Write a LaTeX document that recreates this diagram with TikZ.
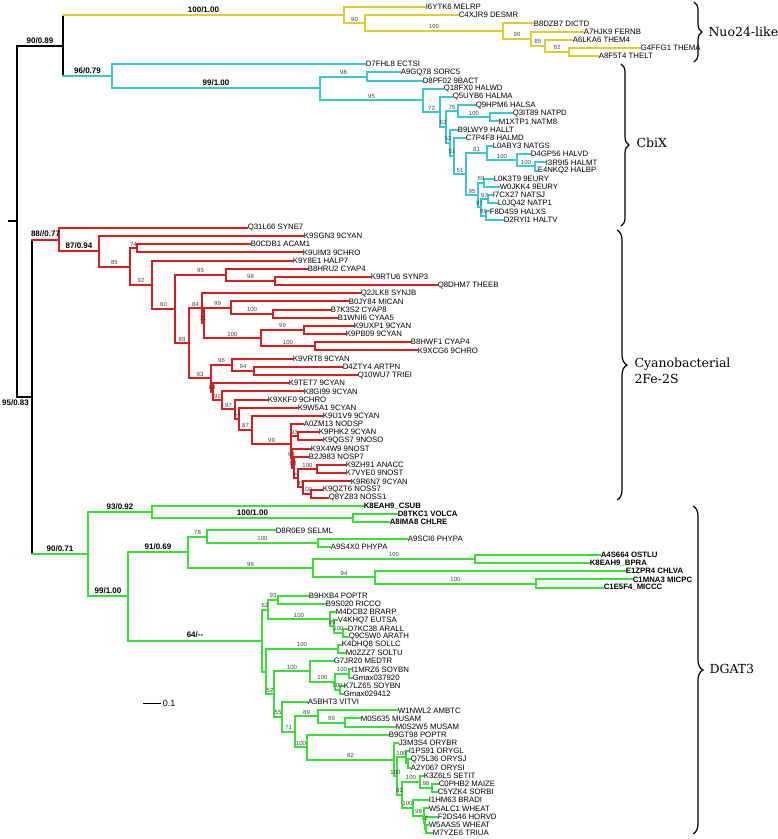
\documentclass[tikz,border=0pt]{standalone}
\usepackage{fontspec}
\setmainfont{Liberation Sans}
\newfontfamily\cladefont{DejaVu Serif}
\usetikzlibrary{calc, decorations.pathreplacing}
\definecolor{nuoyel}{RGB}{224,206,46}
\definecolor{cbicyan}{RGB}{56,200,212}
\definecolor{cyared}{RGB}{218,28,28}
\definecolor{dgagreen}{RGB}{56,224,56}
\tikzset{
  branch/.style={line width=2pt, line cap=rect},
  blk/.style={branch, draw=black},
  nuo/.style={branch, draw=nuoyel},
  cbi/.style={branch, draw=cbicyan},
  cya/.style={branch, draw=cyared},
  dga/.style={branch, draw=dgagreen},
  leaf/.style={anchor=west, inner sep=0.6pt, font=\fontsize{7.8}{8}\selectfont},
  bs/.style={above, inner sep=1pt, text=black!75, font=\fontsize{6}{6}\selectfont},
  sup/.style={above, inner sep=1.5pt, font=\fontsize{8}{9}\selectfont\bfseries},
  clade/.style={anchor=west, align=left, font=\cladefont\fontsize{12.5}{16}\selectfont},
  cbrace/.style={draw=black, line width=1.2pt, decorate, decoration={brace, amplitude=#1}},
  cbrace/.default=8pt
}
% inner node: name, x, first child, last child
\newcommand\inode[4]{\path let \p1=($(#3)!.5!(#4)$) in (#2pt,\y1) coordinate (#1);}

\begin{document}
\begin{tikzpicture}[x=1pt, y=-1pt]
\useasboundingbox (0,0) rectangle (778,839);

% leaves
\foreach \lx/\lt [count=\k from 0] in {
  425/I6YTK6 MELRP, 458/C4XJR9 DESMR, 533/B8DZB7 DICTD, 583/A7HJK9 FERNB,
  572/A6LKA6 THEM4, 640/G4FFG1 THEMA, 598/A8F5T4 THELT,
  365/D7FHL8 ECTSI, 400/A9GQ78 SORC5, 422/D8PF02 9BACT, 443/Q18FX0 HALWD,
  452/Q5UYB6 HALMA, 475/Q9HPM6 HALSA, 512/Q3IT89 NATPD, 498/M1XTP1 NATM8,
  457/B9LWY9 HALLT, 465/C7P4F8 HALMD, 492/L0ABY3 NATGS, 530/D4GP56 HALVD,
  545/I3R9I5 HALMT, 537/E4NKQ2 HALBP, 493/L0K3T9 9EURY, 499/W0JKK4 9EURY,
  492/I7CX27 NATSJ, 497/L0JQ42 NATP1, 489/F8D4S9 HALXS, 503/D2RYI1 HALTV,
  247/Q31L66 SYNE7, 303/K9SGN3 9CYAN, 250/B0CDB1 ACAM1, 302/K9UIM3 9CHRO,
  292/K9Y8E1 HALP7, 307/B8HRU2 CYAP4, 370/K9RTU6 SYNP3, 437/Q8DHM7 THEEB,
  360/Q2JLK8 SYNJB, 348/B0JY84 MICAN, 330/B7K3S2 CYAP8, 337/B1WNI6 CYAA5,
  353/K9UXP1 9CYAN, 345/K9PB09 9CYAN, 410/B8HWF1 CYAP4, 417/K9XCG6 9CHRO,
  292/K9VRT8 9CYAN, 342/D4ZTY4 ARTPN, 357/Q10WU7 TRIEI, 288/K9TET7 9CYAN,
  303/K8GI99 9CYAN, 267/K9XKF0 9CHRO, 297/K9W5A1 9CYAN, 322/K9U1V9 9CYAN,
  303/A0ZM13 NODSP, 318/K9PHK2 9CYAN, 322/K9QGS7 9NOSO, 310/K9X4W9 9NOST,
  308/B2J983 NOSP7, 345/K9ZH91 ANACC, 345/K7VYE0 9NOST, 350/K9R6N7 9CYAN,
  322/K9QZT6 NOSS7, 328/Q8YZ83 NOSS1,
  363/\textbf{K8EAH9\_CSUB}, 397/\textbf{D8TKC1 VOLCA}, 389/\textbf{A8IMA8 CHLRE},
  275/D8R0E9 SELML, 407/A9SCI6 PHYPA, 330/A9S4X0 PHYPA,
  600/\textbf{A4S664 OSTLU}, 589/\textbf{K8EAH9\_BPRA}, 625/\textbf{E1ZPR4 CHLVA},
  632/\textbf{C1MNA3 MICPC}, 603/\textbf{C1E5F4\_MICCC},
  308/B9HXB4 POPTR, 325/B9S020 RICCO, 335/M4DCB2 BRARP, 337/V4KHQ7 EUTSA,
  347/D7KC38 ARALL, 348/Q9C5W0 ARATH, 341/K4DHQ8 SOLLC, 345/M0ZZZ7 SOLTU,
  333/G7JR20 MEDTR, 351/I1MRZ6 SOYBN, 352/Gmax037920, 343/K7LZ65 SOYBN,
  343/Gmax029412, 307/A5BHT3 VITVI, 397/W1NWL2 AMBTC, 360/M0S635 MUSAM,
  395/M0S2W5 MUSAM, 388/B9GT98 POPTR, 398/J3M3S4 ORYBR, 408/I1PS91 ORYGL,
  410/Q75L36 ORYSJ, 410/A2Y067 ORYSI, 423/K3Z6L5 SETIT, 438/C0PHB2 MAIZE,
  437/C5YZK4 SORBI, 428/I1HM63 BRADI, 428/W5ALC1 WHEAT, 437/F2DS46 HORVD,
  428/W5AAS5 WHEAT, 432/M7YZE6 TRIUA}
  \node[leaf] (l\k) at (\lx,{7+8.178*\k}) {\lt};

% inner nodes
%% Nuo24-like
\inode{nuF}{569}{l5}{l6}
\inode{nuE}{545}{l4}{nuF}
\inode{nuD}{531}{l3}{nuE}
\inode{nuC}{503}{l2}{nuD}
\inode{nuB}{365}{l1}{nuC}
\inode{nuA}{344}{l0}{nuB}
%% CbiX
\inode{cb99}{486}{l25}{l26}
\inode{cb97a}{488}{l23}{l24}
\inode{cb97b}{481}{cb97a}{cb99}
\inode{cb69}{484}{l21}{l22}
\inode{cb95b}{478}{cb69}{cb97b}
\inode{cb100c}{535}{l19}{l20}
\inode{cb100b}{517}{l18}{cb100c}
\inode{cb81}{487}{l17}{cb100b}
\inode{cb51b}{466}{cb81}{cb95b}
\inode{cb51a}{454}{l16}{cb51b}
\inode{cb52}{450}{l15}{cb51a}
\inode{cb100a}{490}{l13}{l14}
\inode{cb75}{458}{l12}{cb100a}
\inode{cb63}{446}{cb75}{cb52}
\inode{cb72}{440}{l11}{cb63}
\inode{cb95}{423}{l10}{cb72}
\inode{cb98}{367}{l8}{l9}
\inode{cb0}{320}{cb98}{cb95}
\inode{cbR}{112}{l7}{cb0}
%% Cyanobacterial 2Fe-2S
\inode{rA100}{311}{l59}{l60}
\inode{rA95}{303}{l58}{rA100}
\inode{rA100b}{317}{l56}{l57}
\inode{rA94}{298}{rA100b}{rA95}
\inode{rA63}{294}{l55}{rA94}
\inode{rA64}{292}{l54}{rA63}
\inode{r93c}{298}{l52}{l53}
\inode{rX}{291}{l51}{r93c}
\inode{r99d}{291}{rX}{rA64}
\inode{r87}{252}{l50}{r99d}
\inode{r64}{239}{l49}{r87}
\inode{r97}{235}{l48}{r64}
\inode{r92}{222}{l47}{r97}
\inode{r84b}{213}{l46}{r92}
\inode{r94}{254}{l44}{l45}
\inode{r96}{232}{l43}{r94}
\inode{r93}{211}{r96}{r84b}
\inode{r100c}{315}{l41}{l42}
\inode{r99c}{304}{l39}{l40}
\inode{r100b}{261}{r99c}{r100c}
\inode{r100a}{273}{l37}{l38}
\inode{r99b}{231}{l36}{r100a}
\inode{r71}{204}{r99b}{r100b}
\inode{r84}{202}{l35}{r71}
\inode{r89}{189}{r84}{r93}
\inode{r98}{275}{l33}{l34}
\inode{r95}{226}{l32}{r98}
\inode{r60}{175}{r95}{r89}
\inode{r92a}{152}{l31}{r60}
\inode{r74}{137}{l29}{l30}
\inode{r85}{130}{r74}{r92a}
\inode{rB}{99}{l28}{r85}
\inode{rA}{59}{l27}{rB}
%% DGAT3
\inode{gF}{536}{l70}{l71}
\inode{gE}{375}{l69}{gF}
\inode{gD}{475}{l67}{l68}
\inode{gC}{313}{gD}{gE}
\inode{gB}{318}{l65}{l66}
\inode{gA}{207}{l64}{gB}
\inode{g4}{188}{gA}{gC}
\inode{g2a}{353}{l62}{l63}
\inode{g2}{152}{l61}{g2a}
\inode{s93}{278}{l72}{l73}
\inode{s100c}{343}{l76}{l77}
\inode{s99}{334}{l75}{s100c}
\inode{s100b}{330}{l74}{s99}
\inode{s62}{268}{s93}{s100b}
\inode{sol}{338}{l78}{l79}
\inode{gm1}{349}{l81}{l82}
\inode{gm2}{340}{l83}{l84}
\inode{gly}{335}{gm1}{gm2}
\inode{leg}{310}{l80}{gly}
\inode{u99}{345}{l87}{l88}
\inode{t89}{318}{l86}{u99}
\inode{o3}{408}{l92}{l93}
\inode{ory}{406}{l91}{o3}
\inode{pa2}{432}{l95}{l96}
\inode{pa1}{420}{l94}{pa2}
\inode{po4}{426}{l100}{l101}
\inode{po3}{425}{l99}{po4}
\inode{po2}{424}{l98}{po3}
\inode{po1}{413}{l97}{po2}
\inode{x1}{402}{pa1}{po1}
\inode{x2}{397}{ory}{x1}
\inode{w82}{394}{l90}{x2}
\inode{v100}{307}{l89}{w82}
\inode{d71}{295}{t89}{v100}
\inode{d55}{282}{l85}{d71}
\inode{d52}{274}{leg}{d55}
\inode{dP}{266}{sol}{d52}
\inode{g5}{262}{s62}{dP}
\inode{g3}{128}{g4}{g5}
\inode{g1}{88}{g2}{g3}
%% base
\inode{nc}{63}{nuA}{cbR}
\inode{n2}{32}{rA}{g1}
\inode{root}{17}{nc}{n2}
\coordinate (stub) at ($(root)+(-8,0)$);

% edges
%% Nuo24-like
\draw[nuo] (l5.west) -| (nuF) |- (l6.west);
\draw[nuo] (l4.west) -| (nuE) |- node[bs,pos=.75]{92} (nuF);
\draw[nuo] (l3.west) -| (nuD) |- node[bs,pos=.75]{85} (nuE);
\draw[nuo] (l2.west) -| (nuC) |- node[bs,pos=.75]{90} (nuD);
\draw[nuo] (l1.west) -| (nuB) |- node[bs,pos=.75]{100} (nuC);
\draw[nuo] (l0.west) -| (nuA) |- node[bs,pos=.75]{90} (nuB);

%% CbiX
\draw[cbi] (l25.west) -| (cb99) |- (l26.west);
\draw[cbi] (l23.west) -| (cb97a) |- (l24.west);
\draw[cbi] (cb97a) -| node[bs,pos=.25]{97} (cb97b) |- node[bs,pos=.75]{99} (cb99);
\draw[cbi] (l21.west) -| (cb69) |- (l22.west);
\draw[cbi] (cb69) -| node[bs,pos=.25]{69} (cb95b) |- node[bs,pos=.75]{97} (cb97b);
\draw[cbi] (l19.west) -| (cb100c) |- (l20.west);
\draw[cbi] (l18.west) -| (cb100b) |- node[bs,pos=.75]{100} (cb100c);
\draw[cbi] (l17.west) -| (cb81) |- node[bs,pos=.75]{100} (cb100b);
\draw[cbi] (cb81) -| node[bs,pos=.25]{81} (cb51b) |- node[bs,pos=.75]{95} (cb95b);
\draw[cbi] (l16.west) -| (cb51a) |- node[bs,pos=.75]{51} (cb51b);
\draw[cbi] (l15.west) -| (cb52) |- node[bs,pos=.75]{51} (cb51a);
\draw[cbi] (l13.west) -| (cb100a) |- (l14.west);
\draw[cbi] (l12.west) -| (cb75) |- node[bs,pos=.75]{100} (cb100a);
\draw[cbi] (cb75) -| node[bs,pos=.25]{75} (cb63) |- node[bs,pos=.75]{52} (cb52);
\draw[cbi] (l11.west) -| (cb72) |- node[bs,pos=.75]{63} (cb63);
\draw[cbi] (l10.west) -| (cb95) |- node[bs,pos=.75]{72} (cb72);
\draw[cbi] (l8.west) -| (cb98) |- (l9.west);
\draw[cbi] (cb98) -| node[bs,pos=.25]{98} (cb0) |- node[bs,pos=.75]{95} (cb95);
\draw[cbi] (l7.west) -| (cbR) |- node[sup,pos=.75]{99/1.00} (cb0);

%% Cyanobacterial 2Fe-2S
\draw[cya] (l59.west) -| (rA100) |- (l60.west);
\draw[cya] (l58.west) -| (rA95) |- node[bs,pos=.75]{100} (rA100);
\draw[cya] (l56.west) -| (rA100b) |- (l57.west);
\draw[cya] (rA100b) -| node[bs,pos=.25]{100} (rA94) |- node[bs,pos=.75]{95} (rA95);
\draw[cya] (l55.west) -| (rA63) |- node[bs,pos=.75]{94} (rA94);
\draw[cya] (l54.west) -| (rA64) |- node[bs,pos=.75]{63} (rA63);
\draw[cya] (l52.west) -| (r93c) |- (l53.west);
\draw[cya] (l51.west) -| (rX) |- node[bs,pos=.75]{93} (r93c);
\draw[cya] (rX) -| (r99d) |- node[bs,pos=.75]{64} (rA64);
\draw[cya] (l50.west) -| (r87) |- node[bs,pos=.75]{99} (r99d);
\draw[cya] (l49.west) -| (r64) |- node[bs,pos=.75]{87} (r87);
\draw[cya] (l48.west) -| (r97) |- node[bs,pos=.75]{64} (r64);
\draw[cya] (l47.west) -| (r92) |- node[bs,pos=.75]{97} (r97);
\draw[cya] (l46.west) -| (r84b) |- node[bs,pos=.75]{92} (r92);
\draw[cya] (l44.west) -| (r94) |- (l45.west);
\draw[cya] (l43.west) -| (r96) |- node[bs,pos=.75]{94} (r94);
\draw[cya] (r96) -| node[bs,pos=.25]{96} (r93) |- node[bs,pos=.75]{84} (r84b);
\draw[cya] (l41.west) -| (r100c) |- (l42.west);
\draw[cya] (l39.west) -| (r99c) |- (l40.west);
\draw[cya] (r99c) -| node[bs,pos=.25]{99} (r100b) |- node[bs,pos=.75]{100} (r100c);
\draw[cya] (l37.west) -| (r100a) |- (l38.west);
\draw[cya] (l36.west) -| (r99b) |- node[bs,pos=.75]{100} (r100a);
\draw[cya] (r99b) -| node[bs,pos=.25]{99} (r71) |- node[bs,pos=.75]{100} (r100b);
\draw[cya] (l35.west) -| (r84) |- node[bs,pos=.75]{71} (r71);
\draw[cya] (r84) -| node[bs,pos=.25]{84} (r89) |- node[bs,pos=.75]{93} (r93);
\draw[cya] (l33.west) -| (r98) |- (l34.west);
\draw[cya] (l32.west) -| (r95) |- node[bs,pos=.75]{98} (r98);
\draw[cya] (r95) -| node[bs,pos=.25]{95} (r60) |- node[bs,pos=.75]{89} (r89);
\draw[cya] (l31.west) -| (r92a) |- node[bs,pos=.75]{60} (r60);
\draw[cya] (l29.west) -| (r74) |- (l30.west);
\draw[cya] (r74) -| node[bs,pos=.25]{74} (r85) |- node[bs,pos=.75]{92} (r92a);
\draw[cya] (l28.west) -| (rB) |- node[bs,pos=.75]{85} (r85);
\draw[cya] (l27.west) -| (rA) |- node[sup,pos=.75]{87/0.94} (rB);

%% DGAT3
\draw[dga] (l70.west) -| (gF) |- (l71.west);
\draw[dga] (l69.west) -| (gE) |- node[bs,pos=.75]{100} (gF);
\draw[dga] (l67.west) -| (gD) |- (l68.west);
\draw[dga] (gD) -| node[bs,pos=.25]{100} (gC) |- node[bs,pos=.75]{94} (gE);
\draw[dga] (l65.west) -| (gB) |- (l66.west);
\draw[dga] (l64.west) -| (gA) |- node[bs,pos=.75]{100} (gB);
\draw[dga] (gA) -| node[bs,pos=.25]{78} (g4) |- node[bs,pos=.75]{96} (gC);
\draw[dga] (l62.west) -| (g2a) |- (l63.west);
\draw[dga] (l61.west) -| (g2) |- node[sup,pos=.75]{100/1.00} (g2a);
\draw[dga] (l72.west) -| (s93) |- (l73.west);
\draw[dga] (l76.west) -| (s100c) |- (l77.west);
\draw[dga] (l75.west) -| (s99) |- node[bs,pos=.75]{100} (s100c);
\draw[dga] (l74.west) -| (s100b) |- node[bs,pos=.75]{99} (s99);
\draw[dga] (s93) -| node[bs,pos=.25]{93} (s62) |- node[bs,pos=.75]{100} (s100b);
\draw[dga] (l78.west) -| (sol) |- (l79.west);
\draw[dga] (l81.west) -| (gm1) |- (l82.west);
\draw[dga] (l83.west) -| (gm2) |- (l84.west);
\draw[dga] (gm1) -| node[bs,pos=.25]{100} (gly) |- node[bs,pos=.75]{100} (gm2);
\draw[dga] (l80.west) -| (leg) |- node[bs,pos=.75]{100} (gly);
\draw[dga] (l87.west) -| (u99) |- (l88.west);
\draw[dga] (l86.west) -| (t89) |- node[bs,pos=.75]{99} (u99);
\draw[dga] (l92.west) -| (o3) |- (l93.west);
\draw[dga] (l91.west) -| (ory) |- (o3);
\draw[dga] (l95.west) -| (pa2) |- (l96.west);
\draw[dga] (l94.west) -| (pa1) |- node[bs,pos=.75]{98} (pa2);
\draw[dga] (l100.west) -| (po4) |- (l101.west);
\draw[dga] (l99.west) -| (po3) |- (po4);
\draw[dga] (l98.west) -| (po2) |- node[bs,pos=.75]{72} (po3);
\draw[dga] (l97.west) -| (po1) |- node[bs,pos=.75]{98} (po2);
\draw[dga] (pa1) -| node[bs,pos=.25]{100} (x1) |- node[bs,pos=.75]{100} (po1);
\draw[dga] (ory) -| node[bs,pos=.25]{100} (x2) |- node[bs,pos=.75]{82} (x1);
\draw[dga] (l90.west) -| (w82) |- node[bs,pos=.75]{100} (x2);
\draw[dga] (l89.west) -| (v100) |- node[bs,pos=.75]{82} (w82);
\draw[dga] (t89) -| node[bs,pos=.25]{89} (d71) |- node[bs,pos=.75]{100} (v100);
\draw[dga] (l85.west) -| (d55) |- node[bs,pos=.75]{71} (d71);
\draw[dga] (leg) -| node[bs,pos=.25]{100} (d52) |- node[bs,pos=.75]{55} (d55);
\draw[dga] (sol) -| node[bs,pos=.25]{100} (dP) |- node[bs,pos=.75]{52} (d52);
\draw[dga] (s62) -| node[bs,pos=.25]{62} (g5) |- (dP);
\draw[dga] (g4) -| node[sup,pos=.25]{91/0.69} (g3) |- node[sup,pos=.75]{64/-{}-} (g5);
\draw[dga] (g2) -| node[sup,pos=.25]{93/0.92} (g1) |- node[sup,pos=.75]{99/1.00} (g3);

%% base
\draw[blk] (nuA -| nc) -- (cbR -| nc);
\draw[nuo] (nc |- nuA) -- node[sup]{100/1.00} (nuA);
\draw[cbi] (nc |- cbR) -- node[sup]{96/0.79} (cbR);
\draw[blk] (rA -| n2) -- (g1 -| n2);
\draw[cya] (n2 |- rA) -- node[sup]{88//0.77} (rA);
\draw[dga] (n2 |- g1) -- node[sup]{90/0.71} (g1);
\draw[blk] (nc) -| node[sup,pos=.25]{90/0.89} (root)
  |- node[sup,below,pos=.75,xshift=-9pt]{95/0.83} (n2);
\draw[blk] (stub) -- (root);

% scale bar
\coordinate (sb0) at (143,703);
\coordinate (sb1) at (161,703);
\draw[line width=0.9pt] (sb0) -- (sb1) node[right, inner sep=1.5pt, font=\fontsize{9}{10}\selectfont] (sbl) {0.1};

% clade braces
\coordinate (nuoT) at (694,2);
\coordinate (nuoB) at (694,62);
\coordinate (cbiT) at (621,64);
\coordinate (cbiB) at (621,226);
\coordinate (cyaT) at (617,230);
\coordinate (cyaB) at (617,500);
\coordinate (dgaT) at (693,506);
\coordinate (dgaB) at (693,834);
\draw[cbrace] (nuoT) -- (nuoB);
\draw[cbrace] (cbiT) -- (cbiB);
\draw[cbrace=10pt] (cyaT) -- (cyaB);
\draw[cbrace=10pt] (dgaT) -- (dgaB);
\node[clade] (nuo) at (705,32) {Nuo24-like};
\node[clade] (cbi) at (633,143) {CbiX};
\node[clade] (cya) at (631,371) {Cyanobacterial\\2Fe-2S};
\node[clade] (dga) at (706,669) {DGAT3};

\end{tikzpicture}
\end{document}
